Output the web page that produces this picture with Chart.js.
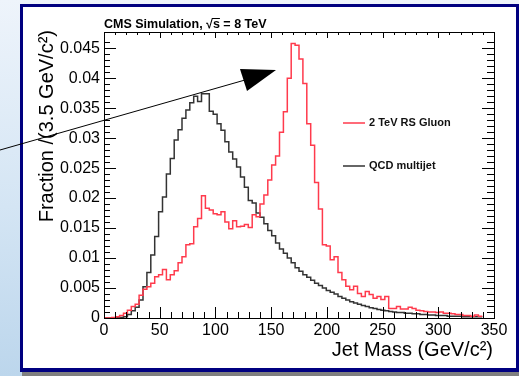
<!DOCTYPE html>
<html lang="en">
<head>
    <meta charset="UTF-8">
    <title>Jet Mass</title>
    <script src="https://cdn.jsdelivr.net/npm/chart.js@4.4.1/dist/chart.umd.min.js"></script>
    <style>
        body { margin: 0; }
        #slide {
            position: relative;
            width: 519px;
            height: 376px;
            overflow: hidden;
            background: linear-gradient(to bottom, #eef4fb 0%, #d4e5f4 55%, #bcd6ec 100%);
        }
        #frame {
            position: absolute;
            left: 20px;
            top: 4px;
            width: 499px;
            height: 368px;
            box-sizing: border-box;
            border: 3px solid #000080;
            border-bottom-width: 4px;
            background: #fff;
        }
        #shadow {
            position: absolute;
            left: 22px;
            top: 372px;
            width: 497px;
            height: 4px;
            background: #7f7f7f;
        }
        #chart { position: absolute; left: 0; top: 0; }
    </style>
</head>
<body>
<div id="slide">
    <div id="frame"></div>
    <div id="shadow"></div>
    <canvas id="chart" width="519" height="376"></canvas>
</div>

<script>
// histogram: 3.5 GeV bins starting at 0
const binWidth = 3.5;

// QCD multijet, fraction per bin
const qcdValues = [
    0, 0, 0, 0.0001, 0.0001, 0.0002, 0.0006, 0.0012, 0.0018, 0.0030,
    0.0052, 0.0076, 0.0105, 0.0136, 0.0177, 0.0202, 0.0240, 0.0266, 0.0297, 0.0314,
    0.0333, 0.0347, 0.0359, 0.0370, 0.0361, 0.0374, 0.0374, 0.0345, 0.0340, 0.0324,
    0.0313, 0.0294, 0.0277, 0.0265, 0.0252, 0.0235, 0.0218, 0.0196, 0.0192, 0.0175,
    0.0168, 0.0157, 0.0146, 0.0137, 0.0125, 0.0115, 0.0108, 0.0100, 0.0092, 0.0084,
    0.0078, 0.0072, 0.0068, 0.0063, 0.0058, 0.0054, 0.0050, 0.0046, 0.0043, 0.0040,
    0.0036, 0.0033, 0.0030, 0.0027, 0.0025, 0.0023, 0.0021, 0.0019, 0.0017, 0.0016,
    0.0014, 0.0013, 0.0012, 0.0011, 0.0010, 0.0009, 0.0009, 0.0008, 0.0008, 0.0007,
    0.0007, 0.0006, 0.0006, 0.0005, 0.0005, 0.0004, 0.0004, 0.0004, 0.0003, 0.0003,
    0.0003, 0.0003, 0.0002, 0.0002, 0.0002, 0.0002, 0.0002
];

// 2 TeV RS Gluon, fraction per bin
const gluonValues = [
    0, 0, 0.0001, 0.0002, 0.0004, 0.0008, 0.0013, 0.0019, 0.0023, 0.0038,
    0.0048, 0.0052, 0.0058, 0.0069, 0.0072, 0.0081, 0.0064, 0.0072, 0.0079, 0.0092,
    0.0102, 0.0122, 0.0124, 0.0152, 0.0166, 0.0204, 0.0183, 0.0180, 0.0174, 0.0172,
    0.0177, 0.0160, 0.0149, 0.0162, 0.0152, 0.0153, 0.0156, 0.0151, 0.0172, 0.0169,
    0.0190, 0.0205, 0.0230, 0.0255, 0.0270, 0.0310, 0.0344, 0.0400, 0.0458, 0.0455,
    0.0432, 0.0391, 0.0324, 0.0288, 0.0226, 0.0182, 0.0122, 0.0120, 0.0097, 0.0102,
    0.0076, 0.0064, 0.0053, 0.0047, 0.0053, 0.0041, 0.0036, 0.0044, 0.0039, 0.0033,
    0.0036, 0.0031, 0.0036, 0.0016, 0.0016, 0.0019, 0.0015, 0.0015, 0.0018, 0.0016,
    0.0013, 0.0012, 0.0011, 0.0010, 0.0010, 0.0009, 0.0010, 0.0008, 0.0008, 0.0007,
    0.0006, 0.0006, 0.0004, 0.0004, 0.0003, 0.0005, 0.0003
];

const seriesNames = ['2 TeV RS Gluon', 'QCD multijet'];
const seriesColors = ['#ff3a4c', '#333333'];

const xMin = 0, xMax = 350, xMajor = 50, xMinor = 10;
const yMin = 0, yMax = 0.0477, yMajor = 0.005, yMinor = 0.001;

const FONT = '"Liberation Sans", Arial, Helvetica, sans-serif';

// points at the left edge of each bin, plus closing right edge
function histPoints(values) {
    const pts = values.map((v, i) => ({ x: i * binWidth, y: v }));
    pts.push({ x: values.length * binWidth, y: values[values.length - 1] });
    return pts;
}

function isMultiple(v, step) {
    const r = v / step;
    return Math.abs(r - Math.round(r)) < 1e-6;
}

// ROOT-like frame, inward ticks, texts, legend and the slide arrow
const decorations = {
    id: 'decorations',
    afterDatasetsDraw(chart) {
        const ctx = chart.ctx;
        const a = chart.chartArea;
        const xs = chart.scales.x;
        const ys = chart.scales.y;
        ctx.save();

        // frame
        ctx.strokeStyle = '#000';
        ctx.lineWidth = 1;
        ctx.strokeRect(Math.round(a.left) + 0.5, Math.round(a.top) + 0.5,
            Math.round(a.right - a.left), Math.round(a.bottom - a.top));

        // ticks
        ctx.beginPath();
        xs.ticks.forEach(t => {
            if (!isMultiple(t.value, xMinor)) return;
            const px = Math.round(xs.getPixelForValue(t.value)) + 0.5;
            const major = isMultiple(t.value, xMajor);
            ctx.moveTo(px, a.bottom);
            ctx.lineTo(px, a.bottom - (major ? 11 : 6));
            ctx.moveTo(px, a.top);
            ctx.lineTo(px, a.top + (major ? 6 : 3));
        });
        ys.ticks.forEach(t => {
            if (!isMultiple(t.value, yMinor)) return;
            const py = Math.round(ys.getPixelForValue(t.value)) + 0.5;
            const major = isMultiple(t.value, yMajor);
            ctx.moveTo(a.left, py);
            ctx.lineTo(a.left + (major ? 12 : 6), py);
            ctx.moveTo(a.right, py);
            ctx.lineTo(a.right - (major ? 12 : 7), py);
        });
        ctx.stroke();

        ctx.fillStyle = '#000';

        // header
        ctx.font = 'bold 12.5px ' + FONT;
        ctx.textAlign = 'left';
        ctx.textBaseline = 'alphabetic';
        const head1 = 'CMS Simulation, \u221A';
        ctx.fillText(head1 + 's = 8 TeV', a.left, 28);
        const ox = a.left + ctx.measureText(head1).width;
        ctx.fillRect(ox - 1, 18, ctx.measureText('s').width + 1, 1);

        // axis titles
        ctx.font = '20px ' + FONT;
        ctx.textAlign = 'right';
        ctx.fillText('Jet Mass (GeV/c\u00B2)', a.right - 1, 356);
        ctx.save();
        ctx.translate(53, 30);
        ctx.rotate(-Math.PI / 2);
        ctx.fillText('Fraction /(3.5 GeV/c\u00B2)', 0, 0);
        ctx.restore();

        // legend
        ctx.font = 'bold 11px ' + FONT;
        ctx.textAlign = 'left';
        ctx.textBaseline = 'middle';
        const legendY = [123, 166];
        seriesNames.forEach((name, i) => {
            ctx.strokeStyle = seriesColors[i];
            ctx.lineWidth = 1.5;
            ctx.beginPath();
            ctx.moveTo(343, legendY[i]);
            ctx.lineTo(365, legendY[i]);
            ctx.stroke();
            ctx.fillStyle = '#111';
            ctx.fillText(name, 369, legendY[i]);
        });

        // slide arrow
        ctx.strokeStyle = '#000';
        ctx.fillStyle = '#000';
        ctx.lineWidth = 1;
        ctx.beginPath();
        ctx.moveTo(0, 150);
        ctx.lineTo(245, 80);
        ctx.stroke();
        ctx.beginPath();
        ctx.moveTo(240, 69);
        ctx.lineTo(276, 70);
        ctx.lineTo(247, 91);
        ctx.closePath();
        ctx.fill();

        ctx.restore();
    }
};

new Chart(document.getElementById('chart'), {
    type: 'line',
    data: {
        datasets: [
            {
                label: seriesNames[0],
                data: histPoints(gluonValues),
                borderColor: seriesColors[0],
                borderWidth: 1.5,
                stepped: 'before',
                pointRadius: 0,
                fill: false
            },
            {
                label: seriesNames[1],
                data: histPoints(qcdValues),
                borderColor: seriesColors[1],
                borderWidth: 1.5,
                stepped: 'before',
                pointRadius: 0,
                fill: false
            }
        ]
    },
    options: {
        responsive: false,
        animation: false,
        layout: {
            autoPadding: false,
            padding: { top: 32, right: 25, left: 0, bottom: 0 }
        },
        plugins: {
            legend: { display: false },
            tooltip: { enabled: false }
        },
        scales: {
            x: {
                type: 'linear',
                min: xMin,
                max: xMax,
                grid: { display: false, drawTicks: false },
                border: { display: false },
                ticks: {
                    stepSize: xMinor,
                    autoSkip: false,
                    maxRotation: 0,
                    padding: 3,
                    color: '#000',
                    font: { family: FONT, size: 16 },
                    callback: v => isMultiple(v, xMajor) ? String(v) : ''
                },
                afterFit: s => { s.height = 58; }
            },
            y: {
                min: yMin,
                max: yMax,
                grid: { display: false, drawTicks: false },
                border: { display: false },
                ticks: {
                    stepSize: yMinor,
                    autoSkip: false,
                    padding: 4,
                    color: '#000',
                    font: { family: FONT, size: 16 },
                    callback: v => isMultiple(v, yMajor) ? String(Number(v.toFixed(3))) : ''
                },
                afterFit: s => { s.width = 104; }
            }
        }
    },
    plugins: [decorations]
});
</script>
</body>
</html>
